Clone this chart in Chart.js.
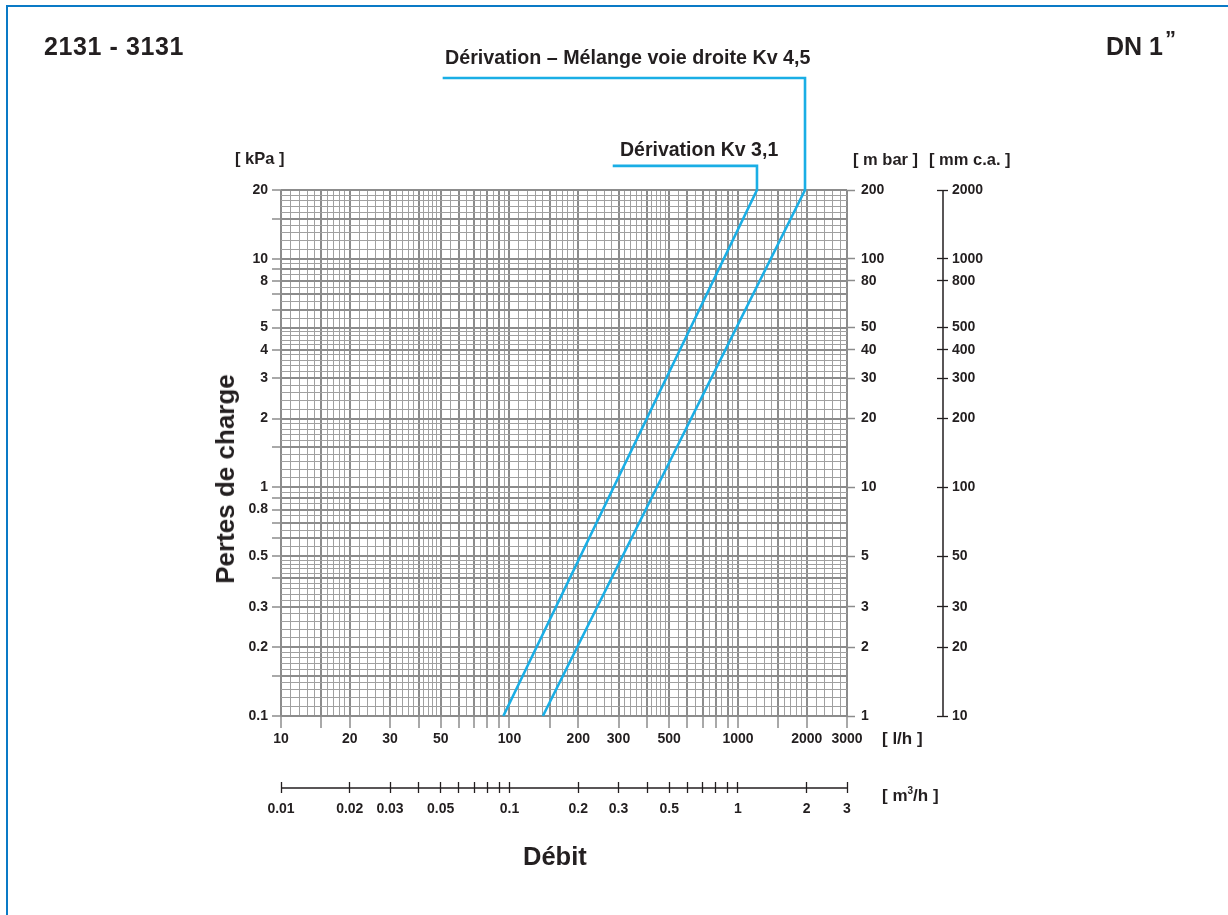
<!DOCTYPE html>
<html lang="fr">
<head>
<meta charset="utf-8">
<title>2131 - 3131 DN 1"</title>
<script src="https://cdn.jsdelivr.net/npm/chart.js@4.4.1/dist/chart.umd.min.js"></script>
<style>
  body { margin: 0; background: #fff; font-family: "Liberation Sans", Arial, sans-serif; font-weight: bold; color: #231f20; overflow: hidden; }
  #page { position: relative; width: 1228px; height: 915px; overflow: hidden; }
  #frame { position: absolute; left: 6px; top: 5px; width: 1400px; height: 1100px; border-left: 2px solid #0a7ac6; border-top: 2px solid #0a7ac6; }
  canvas { position: absolute; left: 0; top: 0; }
  .txt { position: absolute; white-space: nowrap; line-height: 1; }
</style>
</head>
<body>
<div id="page">
  <div id="frame"></div>
  <canvas id="chart" width="1228" height="915"></canvas>
  <div class="txt" style="left:44px;top:34px;font-size:25px;letter-spacing:0.6px">2131 - 3131</div>
  <div class="txt" style="left:1106px;top:34px;font-size:25px">DN 1<span style="position:relative;top:-9px;font-size:22px;margin-left:2px">”</span></div>
  <div class="txt" style="left:445px;top:48px;font-size:19.7px">Dérivation – Mélange voie droite Kv 4,5</div>
  <div class="txt" style="left:620px;top:140px;font-size:19.5px">Dérivation Kv 3,1</div>
  <div class="txt" style="left:235px;top:150px;font-size:16.5px">[ kPa ]</div>
  <div class="txt" style="left:853px;top:151px;font-size:16.5px">[ m bar ]</div>
  <div class="txt" style="left:929px;top:151px;font-size:16.5px">[ mm c.a. ]</div>
  <div class="txt" style="left:882px;top:730px;font-size:17px">[ l/h ]</div>
  <div class="txt" style="left:882px;top:786px;font-size:17px">[ m<sup style="font-size:10px">3</sup>/h ]</div>
  <div class="txt" style="left:523px;top:844px;font-size:25.5px">Débit</div>
  <div class="txt" style="left:225px;top:479px;font-size:26px;transform:translate(-50%,-50%) rotate(-90deg)">Pertes de charge</div>
</div>
<script>
// curves: flow [l/h] against pressure drop [kPa]
const seriesNames = ["Dérivation Kv 3,1", "Dérivation – Mélange voie droite Kv 4,5"];
const kv31Flow = [94, 1211];
const kv31Loss = [0.1, 20];
const kv45Flow = [140, 1965];
const kv45Loss = [0.1, 20];
// leader lines from the top of each curve to its label
const kv31LeaderFlow = [1211, 283];
const kv31LeaderLoss = [25.5, 25.5];
const kv45LeaderFlow = [1965, 51];
const kv45LeaderLoss = [61.8, 61.8];

// tick labels
const flowLabels = [10, 20, 30, 50, 100, 200, 300, 500, 1000, 2000, 3000];
const flowM3Labels = [0.01, 0.02, 0.03, 0.05, 0.1, 0.2, 0.3, 0.5, 1, 2, 3];
const kpaLabels = [0.1, 0.2, 0.3, 0.5, 0.8, 1, 2, 3, 4, 5, 8, 10, 20];
const mbarLabels = [1, 2, 3, 5, 10, 20, 30, 40, 50, 80, 100, 200];
const mmLabels = [10, 20, 30, 50, 100, 200, 300, 400, 500, 800, 1000, 2000];

// tick marks and grid subdivisions inside one decade
const tickMantissas = [1, 1.5, 2, 3, 4, 5, 6, 7, 8, 9];
const m3TickMantissas = [1, 2, 3, 4, 5, 6, 7, 8, 9];
const gridSteps = [[1, 2, 0.1], [2, 5, 0.2], [5, 10, 0.5]];

const gridMajor = "#8c8c8c";
const gridMinor = "#a0a0a0";
const inkColor = "#231f20";
const curveColor = "#1aaee5";

Chart.defaults.font.family = "'Liberation Sans', Arial, sans-serif";
const tickFont = { size: 14, weight: "bold" };

const round = (v) => parseFloat(v.toPrecision(6));
const key = (v) => String(round(v));

function decadeValues(min, max, mantissas) {
  const out = [];
  for (let e = Math.floor(Math.log10(min)); e <= Math.ceil(Math.log10(max)); e++) {
    mantissas.forEach((m) => {
      const v = round(m * Math.pow(10, e));
      if (v >= min && v <= max) out.push(v);
    });
  }
  return out;
}

function gridValues(min, max) {
  const out = new Set();
  for (let e = Math.floor(Math.log10(min)); e <= Math.ceil(Math.log10(max)); e++) {
    gridSteps.forEach(([a, b, s]) => {
      for (let k = 0; a + k * s < b - 1e-9; k++) {
        const v = round(round(a + k * s) * Math.pow(10, e));
        if (v >= min && v <= max) out.add(v);
      }
    });
  }
  out.add(max);
  return [...out].sort((p, q) => p - q);
}

const setTicks = (values) => (scale) => {
  scale.ticks = values.map((v) => ({ value: v }));
};
function labelFor(labels) {
  const set = new Set(labels.map(key));
  return (value) => (set.has(key(value)) ? key(value) : "");
}
function points(xs, ys) {
  return xs.map((x, i) => ({ x: x, y: ys[i] }));
}

const flowTicks = new Set(decadeValues(10, 3000, tickMantissas).map(key));
const kpaTicks = new Set(decadeValues(0.1, 20, tickMantissas).map(key));
const isIn = (set) => (ctx) => ctx.tick && set.has(key(ctx.tick.value));

const axisLines = {
  id: "axisLines",
  afterDraw(chart) {
    const { ctx, scales } = chart;
    ctx.save();
    ctx.strokeStyle = inkColor;
    ctx.lineWidth = 1.5;
    ctx.beginPath();
    ctx.moveTo(scales.q.left, scales.q.top + 6);
    ctx.lineTo(scales.q.right, scales.q.top + 6);
    ctx.moveTo(scales.mm.left + 6, scales.mm.top);
    ctx.lineTo(scales.mm.left + 6, scales.mm.bottom);
    ctx.stroke();
    ctx.restore();
  },
};

const curveStyle = {
  borderColor: curveColor,
  borderWidth: 2.6,
  pointRadius: 0,
  tension: 0,
  clip: false,
  borderJoinStyle: "miter",
};

new Chart(document.getElementById("chart"), {
  type: "line",
  data: {
    datasets: [
      {
        label: seriesNames[0],
        data: points(kv31Flow.concat(kv31LeaderFlow), kv31Loss.concat(kv31LeaderLoss)),
        ...curveStyle,
      },
      {
        label: seriesNames[1],
        data: points(kv45Flow.concat(kv45LeaderFlow), kv45Loss.concat(kv45LeaderLoss)),
        ...curveStyle,
      },
    ],
  },
  options: {
    responsive: false,
    animation: false,
    layout: { padding: { left: 0, right: 211, top: 190, bottom: 93 } },
    plugins: { legend: { display: false }, tooltip: { enabled: false } },
    scales: {
      x: {
        type: "logarithmic",
        position: "bottom",
        min: 10,
        max: 3000,
        afterBuildTicks: setTicks(gridValues(10, 3000)),
        afterFit: (s) => { s.height = 66; },
        border: { display: false },
        grid: {
          color: (ctx) => (isIn(flowTicks)(ctx) ? gridMajor : gridMinor),
          lineWidth: (ctx) => (isIn(flowTicks)(ctx) ? 2 : 1),
          tickColor: (ctx) => (isIn(flowTicks)(ctx) ? gridMajor : "transparent"),
          tickWidth: 1.5,
          tickLength: 12,
        },
        ticks: { autoSkip: false, maxRotation: 0, padding: 3, color: inkColor, font: tickFont, callback: labelFor(flowLabels) },
      },
      q: {
        axis: "x",
        type: "logarithmic",
        position: "bottom",
        display: true,
        min: 0.01,
        max: 3,
        afterBuildTicks: setTicks(decadeValues(0.01, 3, m3TickMantissas)),
        afterFit: (s) => { s.height = 40; },
        border: { display: false },
        grid: { drawOnChartArea: false, color: inkColor, tickLength: 11, tickWidth: 1.3 },
        ticks: { autoSkip: false, maxRotation: 0, padding: 8, color: inkColor, font: tickFont, callback: labelFor(flowM3Labels) },
      },
      y: {
        type: "logarithmic",
        position: "left",
        min: 0.1,
        max: 20,
        afterBuildTicks: setTicks(gridValues(0.1, 20)),
        afterFit: (s) => { s.width = 281; },
        border: { display: false },
        grid: {
          color: (ctx) => (isIn(kpaTicks)(ctx) ? gridMajor : gridMinor),
          lineWidth: (ctx) => (isIn(kpaTicks)(ctx) ? 2 : 1),
          tickColor: (ctx) => (isIn(kpaTicks)(ctx) ? gridMajor : "transparent"),
          tickWidth: 1.5,
          tickLength: 9,
        },
        ticks: { autoSkip: false, padding: 4, color: inkColor, font: tickFont, callback: labelFor(kpaLabels) },
      },
      mbar: {
        axis: "y",
        type: "logarithmic",
        position: "right",
        display: true,
        min: 1,
        max: 200,
        afterBuildTicks: setTicks(mbarLabels),
        afterFit: (s) => { s.width = 90; },
        border: { display: false },
        grid: { drawOnChartArea: false, color: gridMajor, tickLength: 8, tickWidth: 1.5 },
        ticks: { autoSkip: false, padding: 6, color: inkColor, font: tickFont, callback: labelFor(mbarLabels) },
      },
      mm: {
        axis: "y",
        type: "logarithmic",
        position: "right",
        display: true,
        min: 10,
        max: 2000,
        afterBuildTicks: setTicks(mmLabels),
        afterFit: (s) => { s.width = 80; },
        border: { display: false },
        grid: { drawOnChartArea: false, color: inkColor, tickLength: 11, tickWidth: 1.3 },
        ticks: { autoSkip: false, padding: 4, color: inkColor, font: tickFont, callback: labelFor(mmLabels) },
      },
    },
  },
  plugins: [axisLines],
});
</script>
</body>
</html>
